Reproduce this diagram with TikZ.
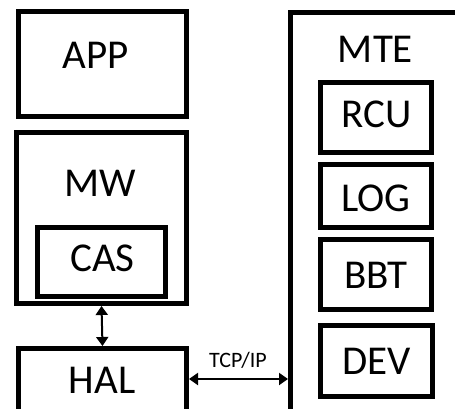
\documentclass[tikz,border=0pt]{standalone}
\usepackage{fontspec}
\setmainfont{Carlito}
\usetikzlibrary{arrows.meta}
\begin{document}
\begin{tikzpicture}[x=1pt,y=-1pt,
  block/.style={draw=black,line width=5pt,inner sep=0pt,anchor=center},
  caption/.style={inner sep=0pt,anchor=center,font=\fontsize{41}{41}\selectfont},
  link/.style={line width=2pt,{Triangle[length=9pt,width=12pt]}-{Triangle[length=9pt,width=12pt]}}]
  \useasboundingbox (0,0) rectangle (455,409);
  \clip (0,0) rectangle (455,409);
  \fill[white] (0,0) rectangle (455,409);

  % left column
  \node[block,minimum width=168pt,minimum height=105pt] (app) at (102.5,64) {};
  \node[caption] (appt) at (96,55.5) {APP};
  \node[block,minimum width=170pt,minimum height=171pt] (mw) at (101.5,218) {};
  \node[caption] (mwt) at (100,183.5) {MW};
  \node[block,minimum width=128pt,minimum height=69pt] (cas) at (101.5,262) {};
  \node[caption] (cast) at (102.5,258.5) {CAS};
  \node[block,minimum width=168pt,minimum height=100pt] (hal) at (102.5,398.5) {};
  \node[caption] (halt) at (102,380) {HAL};

  % right column
  \node[block,minimum width=180pt,minimum height=430pt] (mte) at (380.5,227.5) {};
  \node[caption] (mtet) at (375.5,49) {MTE};
  \node[block,minimum width=111pt,minimum height=70pt] (rcu) at (376,117.5) {};
  \node[caption] (rcut) at (377,114) {RCU};
  \node[block,minimum width=111pt,minimum height=63pt] (log) at (376,196) {};
  \node[caption] (logt) at (376,198) {LOG};
  \node[block,minimum width=111pt,minimum height=70pt] (bbt) at (376,274.5) {};
  \node[caption] (bbtt) at (376,275) {BBT};
  \node[block,minimum width=112pt,minimum height=71pt] (dev) at (376.5,361) {};
  \node[caption] (devt) at (377,361.5) {DEV};

  % connectors
  \draw[link] (mw.south) -- (hal.north);
  \coordinate (tcp) at (240,379);
  \draw[link] (tcp -| hal.east) -- (tcp -| mte.west);
  \node[inner sep=0pt,anchor=center,font=\fontsize{22}{22}\selectfont] (tcpt) at (238,360) {TCP/IP};
\end{tikzpicture}
\end{document}
